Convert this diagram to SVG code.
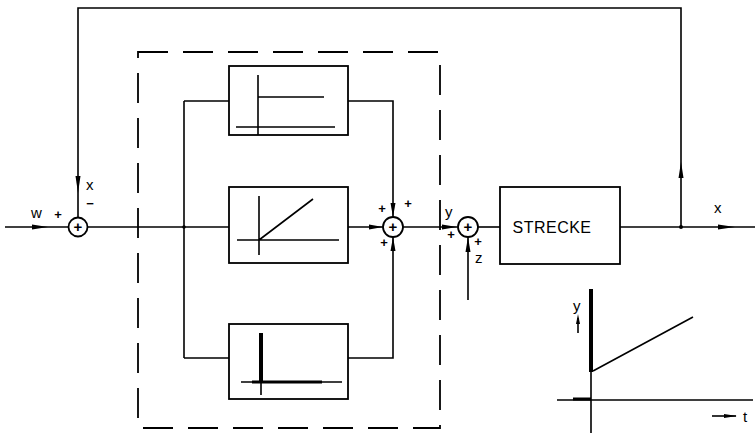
<svg xmlns="http://www.w3.org/2000/svg" width="755" height="434" viewBox="0 0 755 434">
<style>
.ln{stroke:#000;stroke-width:1.6;fill:none}
.bx{stroke:#000;stroke-width:1.8;fill:#fff}
.th{stroke:#000;stroke-width:4;fill:none}
.md{stroke:#000;stroke-width:3;fill:none}
.ah{fill:#000;stroke:none}
.t{font-family:"Liberation Sans",Arial,sans-serif;font-size:15px;fill:#000}
.p{font-family:"Liberation Sans",Arial,sans-serif;font-size:13px;font-weight:bold;fill:#000;text-anchor:middle}
.c{font-family:"Liberation Sans",Arial,sans-serif;font-size:15px;font-weight:bold;fill:#000;text-anchor:middle}
</style>
<rect width="755" height="434" fill="#fff"/>
<g id="connectors">
<path class="ln" d="M5 227H69"/>
<path class="ah" d="M32 224.5L48 227L32 229.5Z"/>
<path class="ln" d="M78 218V8H681V227"/>
<path class="ah" d="M75.5 176L78 193L80.5 176Z"/>
<path class="ah" d="M678.5 178L681 162L683.5 178Z"/>
<path class="ln" d="M87 227H229"/>
<path class="ln" d="M184 101V358"/>
<path class="ln" d="M184 101H229M184 358H229"/>
<path class="ln" d="M348 101H393V217"/>
<path class="ah" d="M390.5 203L393 217L395.5 203Z"/>
<path class="ln" d="M348 227H383"/>
<path class="ah" d="M369 224.5L383 227L369 229.5Z"/>
<path class="ln" d="M348 358H393V237"/>
<path class="ah" d="M390.5 251L393 237L395.5 251Z"/>
<path class="ln" d="M403 227H458"/>
<path class="ah" d="M442 224.5L457 227L442 229.5Z"/>
<path class="ln" d="M468 300V237"/>
<path class="ah" d="M465.5 252L468 237L470.5 252Z"/>
<path class="ln" d="M478 227H500"/>
<path class="ln" d="M620 227H755"/>
<path class="ah" d="M718 224.5L735 227L718 229.5Z"/>
<circle cx="681" cy="227" r="2" fill="#000"/>
<circle cx="184" cy="227" r="1.8" fill="#000"/>
</g>
<g id="dashed-box">
<rect x="138" y="52" width="302" height="376" fill="none" stroke="#000" stroke-width="1.8" stroke-dasharray="30 15"/>
</g>
<g id="sum1">
<circle class="bx" cx="78" cy="227" r="9.5"/>
<text class="c" x="78" y="232">+</text>
<text class="t" x="31" y="218">w</text>
<text class="p" x="58" y="219">+</text>
<text class="t" x="86" y="190">x</text>
<text class="p" x="90" y="208">−</text>
</g>
<g id="block-p">
<rect class="bx" x="229" y="66" width="119" height="69"/>
<path class="ln" d="M258 75V135M258 97H324M236 127H335"/>
</g>
<g id="block-i">
<rect class="bx" x="229" y="187" width="119" height="76"/>
<path class="ln" d="M259 196V255M237 240H339M259 240L313 199"/>
</g>
<g id="block-d">
<rect class="bx" x="229" y="324" width="119" height="75"/>
<path class="ln" d="M241 382H342M261 382V395"/>
<path class="th" d="M261 333V382"/>
<path class="md" d="M252 382H322"/>
</g>
<g id="sum2">
<circle class="bx" cx="393" cy="227" r="10"/>
<text class="c" x="393" y="232">+</text>
<text class="p" x="382" y="213">+</text>
<text class="p" x="408" y="208">+</text>
<text class="p" x="384" y="247">+</text>
</g>
<g id="sum3">
<circle class="bx" cx="468" cy="227" r="10"/>
<text class="c" x="468" y="232">+</text>
<text class="t" x="445" y="217">y</text>
<text class="p" x="451" y="239">+</text>
<text class="p" x="478" y="246">+</text>
<text class="t" x="475" y="263">z</text>
</g>
<g id="strecke">
<rect class="bx" x="500" y="187" width="120" height="77"/>
<text class="t" x="552" y="233" text-anchor="middle" style="font-size:16px;letter-spacing:0.5px">STRECKE</text>
</g>
<text class="t" x="714" y="213">x</text>
<g id="graph">
<path class="ln" d="M591 289V433M557 400H753M593 371L693 317"/>
<path class="th" d="M591 289V372"/>
<path class="md" d="M573 399H591"/>
<path class="ln" d="M578 333V318"/>
<path class="ah" d="M576 324L578 314L580 324Z"/>
<text class="t" x="573" y="311">y</text>
<path class="ln" d="M712 416H736"/>
<path class="ah" d="M724 414L737 416L724 418Z"/>
<text class="t" x="743" y="422">t</text>
</g>
</svg>
